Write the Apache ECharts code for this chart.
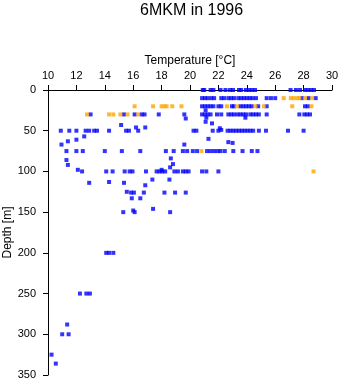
<!DOCTYPE html>
<html>
<head>
<meta charset="utf-8">
<script src="https://cdn.jsdelivr.net/npm/echarts@6/dist/echarts.min.js"></script>
<style>html,body{margin:0;padding:0;background:#fff}#c{width:341px;height:384px}</style>
</head>
<body>
<div id="c"></div>
<script>
// Tick labels
var xTicks = [10, 12, 14, 16, 18, 20, 22, 24, 26, 28, 30];
var yTicks = [0, 50, 100, 150, 200, 250, 300, 350];

// Blue observations: temperatures at standard depths [°C]
var blueT0   = [20.9, 21.0, 21.45, 21.65, 22.15, 22.5, 22.82, 23.03, 23.45, 23.6, 23.94, 24.15, 24.37, 24.58, 27.08, 27.46, 27.75, 28.1, 28.3, 28.52, 28.73];
var blueT10  = [20.85, 21.05, 21.25, 21.5, 21.7, 22.2, 22.4, 22.7, 22.9, 23.1, 23.4, 23.6, 23.8, 24.0, 24.2, 24.4, 24.65, 25.4, 25.7, 26.0, 27.9, 28.35, 28.85];
var blueT20  = [20.85, 21.05, 21.25, 21.45, 21.65, 22.0, 22.2, 22.95, 23.1, 23.55, 23.75, 23.95, 24.15, 24.35, 24.8, 25.4, 28.1, 28.3];
var blueT30  = [13.0, 15.35, 16.1, 16.6, 16.8, 17.8, 19.6, 20.85, 21.05, 21.25, 21.45, 21.9, 22.2, 22.7, 22.9, 23.1, 23.35, 23.55, 23.75, 23.95, 24.25, 24.45, 24.65, 24.85, 25.4, 27.7, 28.05, 28.25, 28.45];
var blueT50  = [10.9, 11.5, 12.0, 12.65, 12.9, 13.25, 13.45, 14.3, 15.5, 15.7, 16.35, 20.25, 20.45, 21.6, 22.0, 22.65, 22.85, 23.05, 23.25, 23.45, 23.65, 23.85, 24.05, 24.25, 24.45, 24.85, 25.35, 26.9, 28.0];
var blueT75  = [11.3, 12.0, 12.45, 14.0, 15.2, 16.5, 18.3, 18.85, 19.5, 19.8, 20.2, 20.5, 21.2, 21.45, 21.7, 21.95, 22.15, 22.45, 23.05, 23.7, 24.35, 24.75];
var blueT100 = [12.4, 14.1, 14.55, 15.4, 15.75, 15.95, 16.9, 17.65, 17.85, 18.05, 18.25, 18.9, 19.15, 19.5, 19.7, 19.9, 20.85, 21.15, 22.0];
var blueT150 = [15.3, 16.1, 18.6];
var blueT200 = [14.1, 14.3, 14.6];
var blueT250 = [12.25, 12.7, 12.95];
// Blue observations at other depths: [temperature, depth]
var blueOther = [
  [21.1, 25], [21.15, 34], [21.1, 39], [21.55, 41], [23.9, 34], [19.7, 35], [15.15, 43], [16.2, 46], [16.85, 46], [22.1, 47], [22.2, 49],
  [10.95, 67], [11.4, 63], [12.0, 61], [12.55, 57], [21.3, 60], [22.7, 64], [23.0, 65], [19.6, 67],
  [11.3, 86], [11.4, 92], [12.1, 98], [18.65, 84], [18.8, 91], [18.6, 95], [18.0, 98],
  [12.9, 114], [14.3, 113], [15.35, 114], [16.85, 117], [17.35, 110], [18.55, 110],
  [15.55, 125], [15.85, 126], [16.05, 126], [16.75, 126], [18.2, 126], [18.95, 126], [19.7, 126],
  [15.9, 133], [16.5, 133], [17.4, 146], [16.0, 148],
  [11.35, 288], [11.0, 300], [11.45, 300], [10.25, 325], [10.55, 336]
];

// Orange observations [°C]
var orangeT10 = [26.6, 27.1, 27.3, 27.55, 27.7, 28.1, 28.6];
var orangeT20 = [16.1, 17.4, 18.0, 18.2, 18.35, 18.75, 19.4, 22.6, 23.3, 24.6, 25.2, 27.2, 28.55];
var orangeT30 = [12.75, 14.3, 14.6, 15.1, 15.6, 16.35];
var orangeT75 = [20.8];
var orangeT100 = [28.7];

function atDepth(temps, d) { return temps.map(function (t) { return [t, d]; }); }

var blueData = [].concat(
  atDepth(blueT0, 0), atDepth(blueT10, 10), atDepth(blueT20, 20), atDepth(blueT30, 30),
  atDepth(blueT50, 50), atDepth(blueT75, 75), atDepth(blueT100, 100), atDepth(blueT150, 150),
  atDepth(blueT200, 200), atDepth(blueT250, 250), blueOther
);
var orangeData = [].concat(
  atDepth(orangeT10, 10), atDepth(orangeT20, 20), atDepth(orangeT30, 30),
  atDepth(orangeT75, 75), atDepth(orangeT100, 100)
);

var FONT = '"Liberation Sans", Arial, Helvetica, sans-serif';
var chart = echarts.init(document.getElementById('c'), null, {renderer: 'canvas'});
chart.setOption({
  animation: false,
  backgroundColor: '#fff',
  textStyle: {fontFamily: FONT, color: '#000'},
  title: {
    text: '6MKM in 1996', left: 135, top: -2,
    textStyle: {fontFamily: FONT, fontSize: 16, fontWeight: 'normal', color: '#000'}
  },
  grid: {left: 48, top: 90, width: 284, height: 285, containLabel: false, outerBoundsMode: 'none'},
  xAxis: {
    type: 'value', position: 'top', min: xTicks[0], max: xTicks[xTicks.length - 1], interval: 2,
    name: 'Temperature [°C]', nameLocation: 'middle', nameGap: 23, nameMoveOverlap: false,
    nameTextStyle: {fontFamily: FONT, fontSize: 12, color: '#000'},
    axisLine: {show: true, lineStyle: {color: '#000', width: 1}},
    axisTick: {show: true, inside: false, length: 5, lineStyle: {color: '#000'}},
    axisLabel: {fontFamily: FONT, fontSize: 11, color: '#000', margin: 9},
    splitLine: {show: false}
  },
  yAxis: {
    type: 'value', inverse: true, min: yTicks[0], max: yTicks[yTicks.length - 1], interval: 50,
    name: 'Depth [m]', nameLocation: 'middle', nameGap: 34, nameRotate: 90, nameMoveOverlap: false,
    nameTextStyle: {fontFamily: FONT, fontSize: 12, color: '#000'},
    axisLine: {show: true, lineStyle: {color: '#000', width: 1}},
    axisTick: {show: true, inside: false, length: 5, lineStyle: {color: '#000'}},
    axisLabel: {fontFamily: FONT, fontSize: 11, color: '#000', margin: 12},
    splitLine: {show: false}
  },
  series: [
    {type: 'scatter', data: blueData, symbol: 'rect', symbolSize: 4, itemStyle: {color: '#0000ff'}, silent: true},
    {type: 'scatter', data: orangeData, symbol: 'rect', symbolSize: 4, itemStyle: {color: '#ffa500'}, silent: true}
  ]
});
</script>
</body>
</html>
